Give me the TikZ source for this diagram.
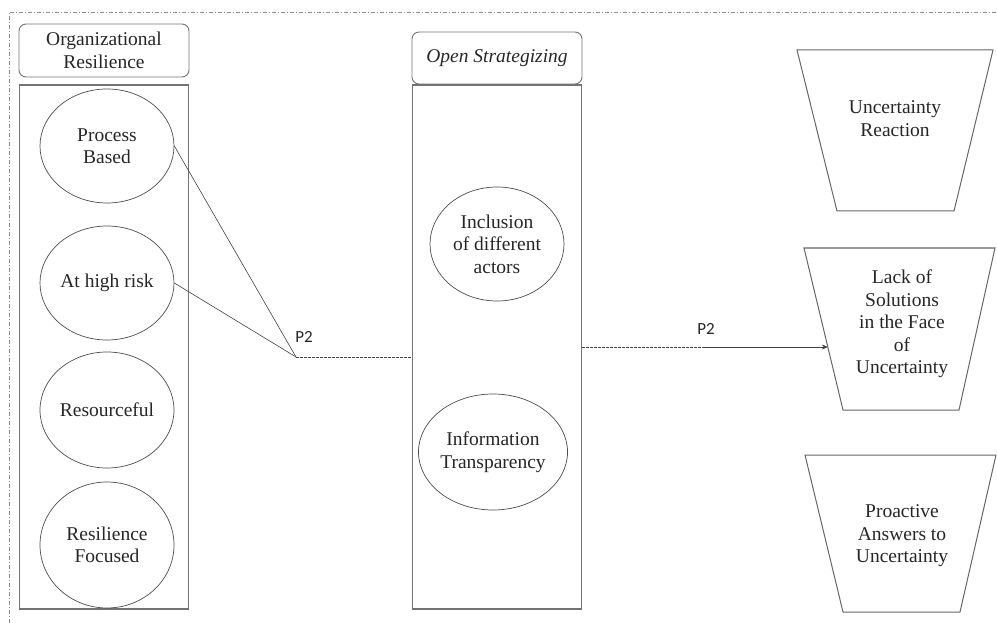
\documentclass[tikz,border=0pt]{standalone}
\usepackage{fontspec}
\setmainfont{Liberation Serif}
\newfontfamily\labelfont{Carlito}
\usetikzlibrary{shapes.geometric,arrows.meta}
\begin{document}
\begin{tikzpicture}[x=1pt,y=-1pt,
  every node/.style={font=\fontsize{19.5}{22.5}\selectfont, text=black!85, align=center},
  header/.style={draw=black!55, line width=0.9pt, rounded corners=7pt,
    minimum width=170, minimum height=53, inner sep=0},
  column/.style={draw=black!55, line width=1.1pt, minimum width=169,
    minimum height=524, inner sep=0},
  factor/.style={ellipse, draw=black!70, line width=0.7pt, minimum width=134,
    minimum height=114, inner sep=0},
  outcome/.style={draw=black!60, line width=1pt, line join=miter},
  link/.style={draw=black!75, line width=0.6pt},
  weak/.style={link, dash pattern=on 2.5pt off 1.5pt},
  plabel/.style={font=\labelfont\fontsize{17}{17}\selectfont, text=black!85, inner sep=0}
]
\useasboundingbox (0,0) rectangle (997,623);

% outer frame
\draw[black!45, line width=0.6pt, dash pattern=on 4pt off 2pt on 1pt off 2pt]
  (9,623) -- (9,12.5) -- (997,12.5);

% organizational resilience column
\node[header] (orgh) at (104,50.5) {Organizational\\Resilience};
\node[column] (orgc) at (104,347) {};
\node[factor] (pb) at (107,146) {Process\\Based};
\node[factor] (hr) at (107,283) {At high risk};
\node[factor, minimum height=116] (rf) at (107,410) {Resourceful};
\node[factor, minimum height=126] (rs) at (107,545) {Resilience\\Focused};

% open strategizing column
\node[header, minimum height=52] (osh) at (497,58) {\itshape Open Strategizing};
\node[column] (osc) at (497,347) {};
\node[factor] (inc) at (497,244) {Inclusion\\of different\\actors};
\node[factor, minimum height=116] (info) at (493,452) {Information\\Transparency};

% outcomes (inverted trapezia)
\coordinate (urtl) at (797,50);   \coordinate (urtr) at (993,50);
\coordinate (urbr) at (954,211);  \coordinate (urbl) at (837,211);
\draw[outcome] (urtl) -- (urtr) -- (urbr) -- (urbl) -- cycle;
\node (ur) at (895,118.5) {Uncertainty\\Reaction};

\coordinate (lktl) at (804,248);  \coordinate (lktr) at (995,248);
\coordinate (lkbr) at (959,410);  \coordinate (lkbl) at (843,410);
\draw[outcome] (lktl) -- (lktr) -- (lkbr) -- (lkbl) -- cycle;
\node (lack) at (902,324) {Lack of\\Solutions\\in the Face\\of\\Uncertainty};

\coordinate (prtl) at (805,455);  \coordinate (prtr) at (996,455);
\coordinate (prbr) at (960,612);  \coordinate (prbl) at (843,612);
\draw[outcome] (prtl) -- (prtr) -- (prbr) -- (prbl) -- cycle;
\node (pro) at (902,536) {Proactive\\Answers to\\Uncertainty};

% propositions
\coordinate (j) at (296,357);
\draw[link] (pb.east) -- (j);
\draw[link] (hr.east) -- (j);
\draw[weak] (j) -- (j -| osc.west);
\node[plabel] (p2a) at (304,337) {P2};

\coordinate (split) at (704,347);
\coordinate (far) at (split -| lack.center);
\coordinate (hit) at (intersection of lktl--lkbl and split--far);
\draw[weak] (osc.east |- split) -- (split);
\draw[link, -{Stealth[length=6pt,width=5pt]}] (split) -- (hit);
\node[plabel] (p2b) at (706,329) {P2};
\end{tikzpicture}
\end{document}
